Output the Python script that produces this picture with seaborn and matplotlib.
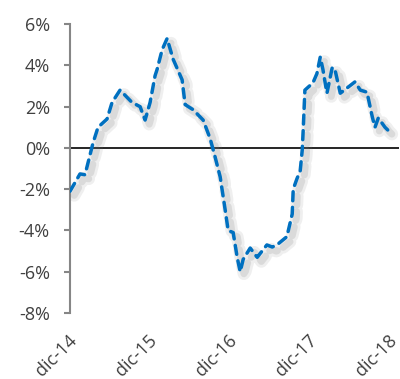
import matplotlib
matplotlib.use("Agg")
import matplotlib.pyplot as plt
import matplotlib.patheffects as pe
from matplotlib.transforms import ScaledTranslation
import pandas as pd
import seaborn as sns

# Months elapsed since Dec-2014 and the year-on-year change (%)
months = [0.0, 1.5, 2.25, 3.45, 4.2, 5.55, 6.3, 7.5, 9.3, 10.5, 11.25, 12.0,
          12.75, 13.05, 13.8, 14.55, 15.45, 16.8, 17.25, 18.45, 19.95, 21.0,
          21.75, 22.5, 23.25, 23.7, 24.45, 25.05, 25.5, 25.95, 27.0, 28.05,
          29.5, 30.3, 31.0, 32.5, 33.3, 33.45, 34.0, 34.5, 34.8, 34.95, 35.2,
          36.4, 37.0, 37.5, 37.9, 38.5, 39.3, 39.7, 40.5, 41.5, 42.7, 43.5,
          44.5, 45.3, 45.7, 46.2, 47.2, 48.3]
values = [-2.1, -1.26, -1.3, 0.24, 1.0, 1.4, 2.2, 2.8, 2.2, 2.0, 1.35, 2.2,
          3.5, 3.8, 4.75, 5.3, 4.3, 3.3, 2.1, 1.85, 1.35, 0.45,
          -0.45, -1.4, -3.0, -4.0, -4.1, -5.3, -6.0, -5.4, -4.85, -5.3,
          -4.7, -4.8, -4.7, -4.3, -3.2, -2.0, -1.5, -1.1, -0.1, 0.9, 2.8,
          3.15, 3.6, 4.4, 3.8, 2.65, 3.9, 3.8, 2.65, 2.9, 3.2, 2.8,
          2.7, 1.5, 1.0, 1.45, 1.0, 0.65]

year_ticks = [0, 12, 24, 36, 48]
year_labels = ["dic-14", "dic-15", "dic-16", "dic-17", "dic-18"]
y_ticks = [-8, -6, -4, -2, 0, 2, 4, 6]
y_labels = ["-8%", "-6%", "-4%", "-2%", "0%", "2%", "4%", "6%"]

sns.set_style("white")
plt.rcParams["font.family"] = ["Open Sans", "DejaVu Sans"]

fig = plt.figure(figsize=(4, 3.79), dpi=100)
ax = fig.add_axes([0.175, 0.174, 0.8225, 0.7625])

df = pd.DataFrame({"mes": months, "valor": values})

ax.axhline(0, color="black", linewidth=1.2, zorder=1)

soft_shadow = [
    pe.SimpleLineShadow(offset=(3, -3), shadow_color="#7f7f7f", alpha=0.12, linewidth=9),
    pe.SimpleLineShadow(offset=(3, -3), shadow_color="#7f7f7f", alpha=0.18, linewidth=5),
    pe.Normal(),
]
sns.lineplot(data=df, x="mes", y="valor", ax=ax, color="#0070C0",
             linewidth=2.5, linestyle=(0, (2.6, 1.9)), dash_capstyle="round",
             path_effects=soft_shadow, zorder=3)

ax.set_xlim(0, 49.3)
ax.set_ylim(-8, 6)
ax.set_xlabel("")
ax.set_ylabel("")

for side in ("top", "right", "bottom"):
    ax.spines[side].set_visible(False)
ax.spines["left"].set_color("#868686")
ax.spines["left"].set_linewidth(1.5)

ax.set_yticks(y_ticks)
ax.set_yticklabels(y_labels)
ax.set_xticks(year_ticks)
ax.set_xticklabels(year_labels, rotation=45, ha="right", va="center",
                   rotation_mode="anchor")

ax.tick_params(axis="y", left=True, direction="out", length=4.5, width=1.5,
               color="#868686", labelcolor="#404040", labelsize=13, pad=10)
ax.tick_params(axis="x", bottom=True, length=0, labelcolor="#404040",
               labelsize=13, pad=17.5)

# nudge the rotated year labels so their ends sit just right of each tick
shift = ScaledTranslation(4 / 100, 0, fig.dpi_scale_trans)
for lab in ax.get_xticklabels():
    lab.set_transform(lab.get_transform() + shift)

ax.grid(False)

fig.savefig("out.png", dpi=100)
